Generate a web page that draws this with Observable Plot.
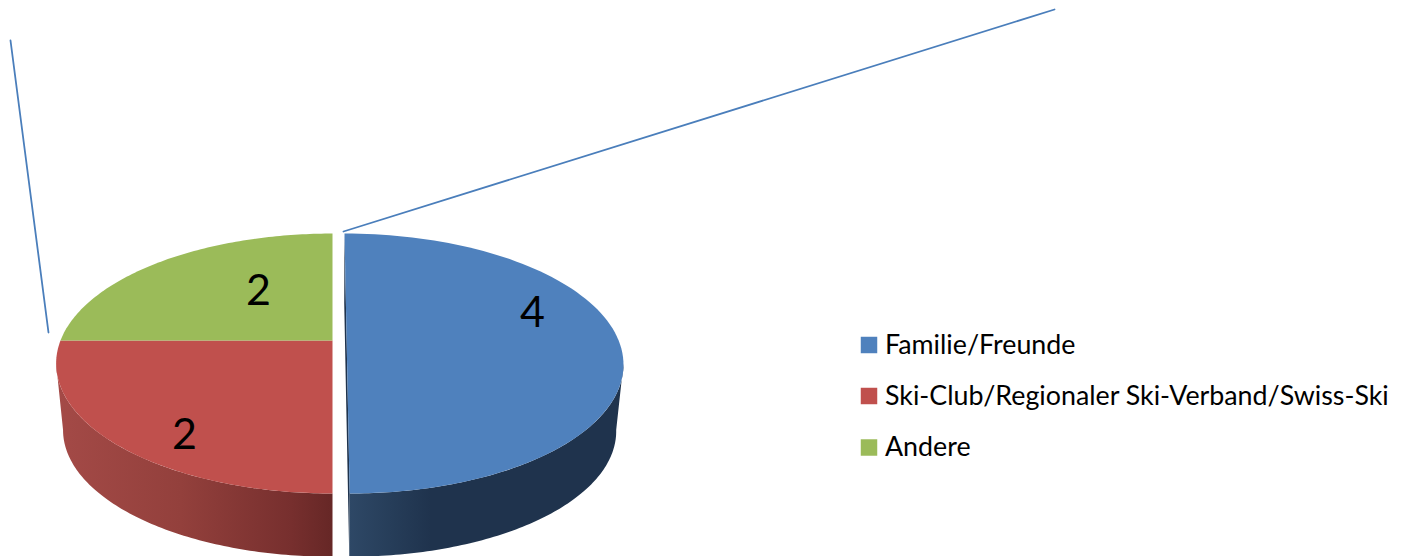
<!DOCTYPE html>
<html>
<head>
<meta charset="utf-8">
<script src="https://cdn.jsdelivr.net/npm/d3@7"></script>
<script src="https://cdn.jsdelivr.net/npm/@observablehq/plot@0.6"></script>
<style>html,body{margin:0;padding:0;background:#fff;overflow:hidden}svg{display:block}</style>
</head>
<body>
<div id="chart"></div>
<script>
// Data
const categories = ["Familie/Freunde", "Ski-Club/Regionaler Ski-Verband/Swiss-Ski", "Andere"];
const values = [4, 2, 2];
const colors = ["#4f81bd", "#c0504d", "#9bbb59"];
const exploded = [0.052, 0, 0];

// Layout (drawing space of the page, in the scale's own units)
const W = 1408, H = 556;
const pieCx = 332, apexY = 340, A = 272, B = 125.9, k = 0.177;
const depthScale = 0.975, depthDy = 66.5;
const labelSpots = [[532, 313], [184, 435], [258, 291]];
const leaders = [[[343, 231], [1054, 9]], [[48, 332], [10, 40]]];
const legendX = 868.5, legendTextX = 884.5, legendYs = [344.5, 395.5, 447];

const pie = d3.pie().sort(null).startAngle(0).endAngle(2 * Math.PI)(values);

// Perspective projection of a point of the unit disc
function project(u, v, e, level) {
  const s = level ? depthScale : 1;
  const U = u + e.u, V = v + e.v;
  const w = 1 - k * V;
  return {
    x: pieCx + s * A * U / w,
    y: (level ? depthDy : 0) + apexY + (level ? 23 * (1 - s) : 0) + s * B * V / w
  };
}
const rim = (t, e, level) => project(Math.sin(t), -Math.cos(t), e, level);
const arcAngles = (a, b) => d3.range(0, 97).map(i => a + (b - a) * i / 96);
const offset = (d, i) => {
  const m = (d.startAngle + d.endAngle) / 2;
  return {u: exploded[i] * Math.sin(m), v: -exploded[i] * Math.cos(m)};
};

// Visible part of each slice's wall ends at the silhouette of the disc
const silhouette = Math.acos(k);
const wallRange = [[Math.PI - silhouette, Math.PI], [Math.PI, Math.PI + silhouette]];

const line = (pts, fill) => Plot.line(pts, {x: "x", y: "y", fill, stroke: "none", curve: "linear"});

const defs = () => {
  const d = d3.create("svg:defs");
  const grad = (id, stops) => {
    const g = d.append("linearGradient").attr("id", id).attr("x1", 0).attr("x2", 1).attr("y1", 0).attr("y2", 0);
    stops.forEach(([o, c]) => g.append("stop").attr("offset", o).attr("stop-color", c));
  };
  grad("wallBlue", [[0, "#2e4866"], [0.3, "#1f334d"], [1, "#1f334d"]]);
  grad("wallRed", [[0, "#a44a47"], [0.45, "#93403c"], [0.85, "#772f2e"], [1, "#662726"]]);
  return d.node();
};

const marks = [defs];

// Cut face of the exploded slice
{
  const e = offset(pie[0], 0);
  marks.push(line([
    rim(0, e, 0), project(0, 0, e, 0), rim(Math.PI, e, 0),
    rim(Math.PI, e, 1), project(0, 0, e, 1), rim(0, e, 1)
  ], "#1f334d"));
}
// Walls
wallRange.forEach(([a, b], i) => {
  const e = offset(pie[i], i);
  const ts = arcAngles(a, b);
  marks.push(line([...ts.map(t => rim(t, e, 0)), ...ts.slice().reverse().map(t => rim(t, e, 1))],
    i === 0 ? "url(#wallBlue)" : "url(#wallRed)"));
});
// Top faces
pie.forEach((d, i) => {
  const e = offset(d, i);
  marks.push(line([project(0, 0, e, 0), ...arcAngles(d.startAngle, d.endAngle).map(t => rim(t, e, 0))], colors[i]));
});
// Leader lines
leaders.forEach(l => marks.push(Plot.line(l.map(([x, y]) => ({x, y})), {x: "x", y: "y", stroke: "#4a7ebb", strokeWidth: 1.8})));
// Value labels
marks.push(Plot.text(values, {
  x: (d, i) => labelSpots[i][0], y: (d, i) => labelSpots[i][1], text: d => String(d),
  fontSize: 43, fill: "#000", fontFamily: "Lato"
}));
// Legend
marks.push(Plot.dot(categories, {
  x: () => legendX, y: (d, i) => legendYs[i], fill: (d, i) => colors[i], symbol: "square",
  r: 9.3, stroke: "none"
}));
marks.push(Plot.text(categories, {
  x: () => legendTextX, y: (d, i) => legendYs[i], text: d => d, textAnchor: "start",
  fontSize: 26.8, fill: "#000", fontFamily: "Lato"
}));

const chart = Plot.plot({
  width: W, height: H, margin: 0,
  style: {background: "#fff", overflow: "hidden"},
  x: {domain: [0, W], range: [0, W], axis: null},
  y: {domain: [0, H], range: [0, H], axis: null},
  color: {type: "identity"},
  r: {type: "identity"},
  marks
});
document.getElementById("chart").append(chart);
</script>
</body>
</html>
